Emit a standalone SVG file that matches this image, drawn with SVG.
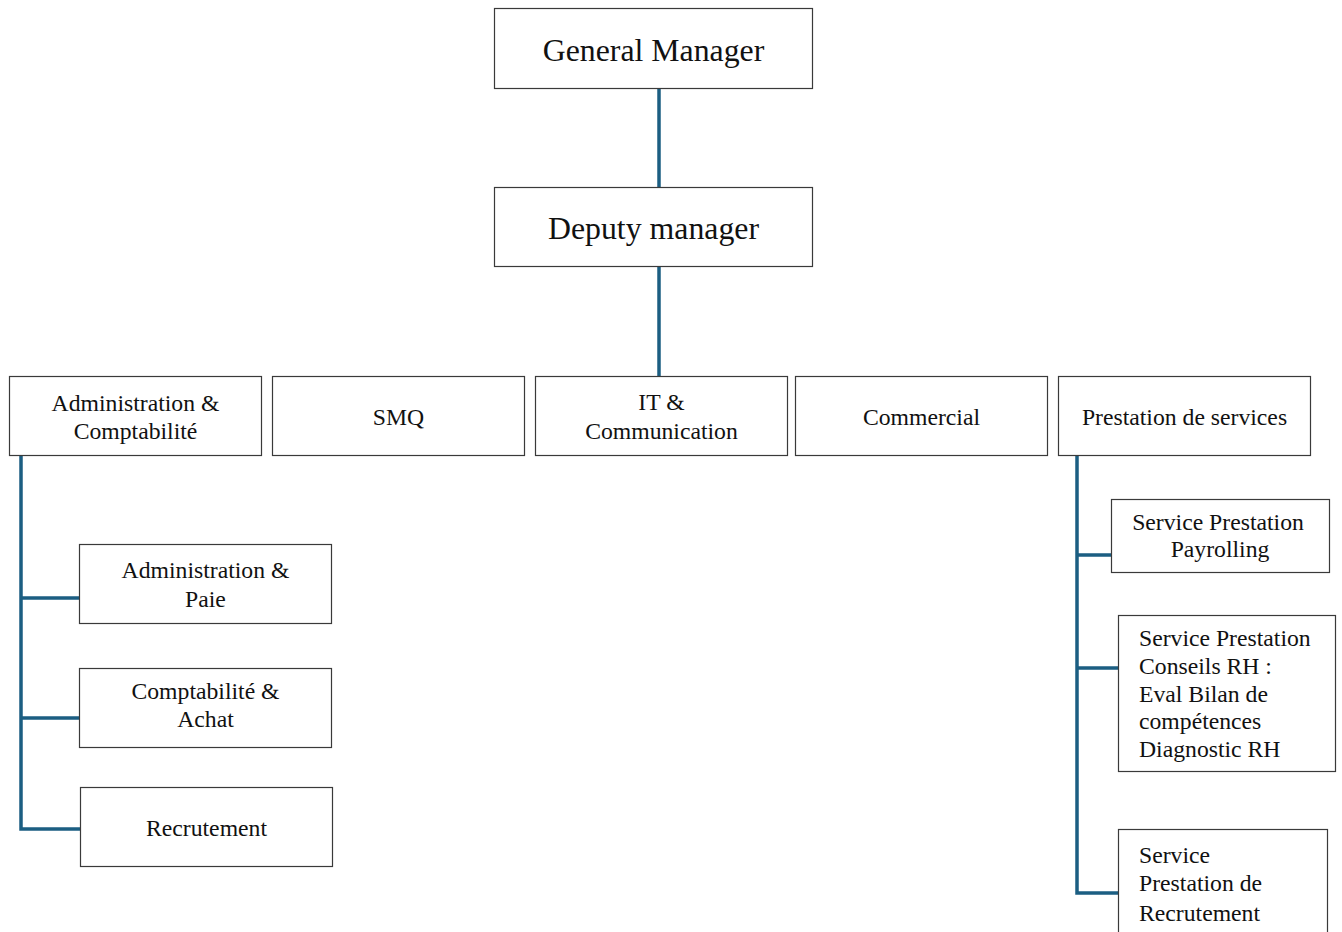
<svg xmlns="http://www.w3.org/2000/svg" width="1342" height="932" viewBox="0 0 1342 932">
  <style>
    .box { fill: #ffffff; stroke: #3a3a3a; stroke-width: 1.2; }
    .t { font-family: "Liberation Serif", "Times New Roman", serif; font-size: 23.7px; fill: #111111; }
    .big { font-size: 31.8px; }
    .c { text-anchor: middle; }
    .link { fill: none; stroke: #1b5e82; stroke-width: 3.5; stroke-linejoin: miter; }
  </style>
  <rect width="1342" height="932" fill="#ffffff"/>

  <g id="connectors">
    <line class="link" x1="659" y1="89" x2="659" y2="187"/>
    <line class="link" x1="659" y1="267" x2="659" y2="376"/>
    <path class="link" d="M21 456 V829 H80 M21 598 H79 M21 718 H79"/>
    <path class="link" d="M1077 456 V893 H1118 M1077 555 H1111 M1077 668 H1118"/>
  </g>

  <g id="general-manager">
    <rect class="box" x="494.5" y="8.5" width="318" height="80"/>
    <text class="t big c" x="653.5" y="61">General Manager</text>
  </g>

  <g id="deputy-manager">
    <rect class="box" x="494.5" y="187.5" width="318" height="79"/>
    <text class="t big c" x="653.5" y="239">Deputy manager</text>
  </g>

  <g id="admin-comptabilite">
    <rect class="box" x="9.5" y="376.5" width="252" height="79"/>
    <text class="t c" x="135.5" y="411">Administration &amp;</text>
    <text class="t c" x="135.5" y="439">Comptabilité</text>
  </g>

  <g id="smq">
    <rect class="box" x="272.5" y="376.5" width="252" height="79"/>
    <text class="t c" x="398.5" y="425">SMQ</text>
  </g>

  <g id="it-communication">
    <rect class="box" x="535.5" y="376.5" width="252" height="79"/>
    <text class="t c" x="661.5" y="410">IT &amp;</text>
    <text class="t c" x="661.5" y="439">Communication</text>
  </g>

  <g id="commercial">
    <rect class="box" x="795.5" y="376.5" width="252" height="79"/>
    <text class="t c" x="921.5" y="425">Commercial</text>
  </g>

  <g id="prestation-services">
    <rect class="box" x="1058.5" y="376.5" width="252" height="79"/>
    <text class="t c" x="1184.5" y="425">Prestation de services</text>
  </g>

  <g id="admin-paie">
    <rect class="box" x="79.5" y="544.5" width="252" height="79"/>
    <text class="t c" x="205.5" y="578">Administration &amp;</text>
    <text class="t c" x="205.5" y="607">Paie</text>
  </g>

  <g id="comptabilite-achat">
    <rect class="box" x="79.5" y="668.5" width="252" height="79"/>
    <text class="t c" x="205.5" y="699">Comptabilité &amp;</text>
    <text class="t c" x="205.5" y="727">Achat</text>
  </g>

  <g id="recrutement">
    <rect class="box" x="80.5" y="787.5" width="252" height="79"/>
    <text class="t c" x="206.5" y="836">Recrutement</text>
  </g>

  <g id="service-payrolling">
    <rect class="box" x="1111.5" y="499.5" width="218" height="73"/>
    <text class="t c" x="1218" y="530">Service Prestation</text>
    <text class="t c" x="1220" y="557">Payrolling</text>
  </g>

  <g id="service-conseils-rh">
    <rect class="box" x="1118.5" y="615.5" width="217" height="156"/>
    <text class="t" x="1139" y="646">Service Prestation</text>
    <text class="t" x="1139" y="674">Conseils RH :</text>
    <text class="t" x="1139" y="702">Eval Bilan de</text>
    <text class="t" x="1139" y="729">compétences</text>
    <text class="t" x="1139" y="757">Diagnostic RH</text>
  </g>

  <g id="service-recrutement">
    <rect class="box" x="1118.5" y="829.5" width="209" height="110"/>
    <text class="t" x="1139" y="863">Service</text>
    <text class="t" x="1139" y="891">Prestation de</text>
    <text class="t" x="1139" y="921">Recrutement</text>
  </g>
</svg>
